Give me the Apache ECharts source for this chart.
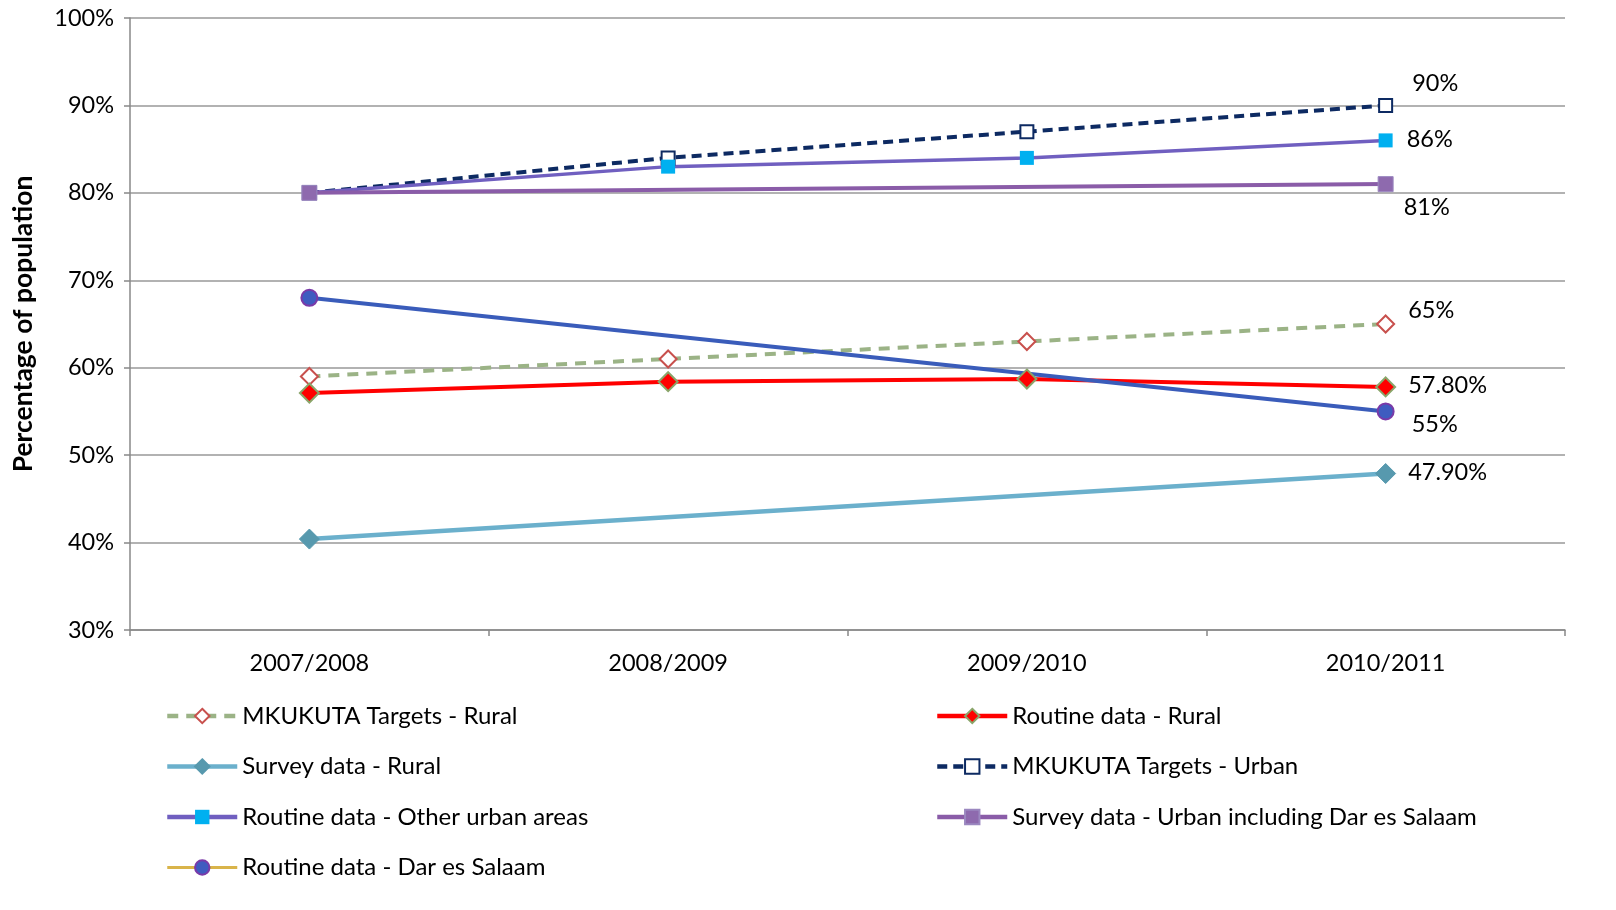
<!DOCTYPE html>
<html>
<head>
<meta charset="utf-8">
<script src="https://cdn.jsdelivr.net/npm/echarts@6/dist/echarts.min.js"></script>
<style>html,body{margin:0;padding:0;background:#fff}#c{width:1616px;height:910px}</style>
</head>
<body>
<div id="c"></div>
<script>
var categories = ['2007/2008', '2008/2009', '2009/2010', '2010/2011'];
var yTicks = [30, 40, 50, 60, 70, 80, 90, 100];
var mkukutaRural = [59, 61, 63, 65];
var routineRural = [57.1, 58.4, 58.7, 57.8];
var surveyRural = [40.4, null, null, 47.9];
var mkukutaUrban = [80, 84, 87, 90];
var routineOtherUrban = [80, 83, 84, 86];
var surveyUrban = [80, null, null, 81];
var routineDar = [68, null, null, 55];
var endLabels = ['65%', '57.80%', '47.90%', '90%', '86%', '81%', '55%'];

var FONT = 'Lato';
var FS = 23.5;
var chart = echarts.init(document.getElementById('c'));

function withEndLabel(arr, text, offset) {
  return arr.map(function (v, i) {
    if (i === arr.length - 1) {
      return {
        value: v,
        label: {
          show: true, position: 'right', offset: offset, formatter: text,
          color: '#000', fontFamily: FONT, fontSize: FS
        }
      };
    }
    return v;
  });
}

var series = [
  {
    name: 'MKUKUTA Targets - Rural', type: 'line',
    data: withEndLabel(mkukutaRural, endLabels[0], [8, -14]),
    symbol: 'diamond', symbolSize: 17,
    lineStyle: { color: '#9BB386', width: 4, type: [11, 8] },
    itemStyle: { color: '#fff', borderColor: '#C8504D', borderWidth: 2 }
  },
  {
    name: 'Routine data - Rural', type: 'line',
    data: withEndLabel(routineRural, endLabels[1], [7, -2]),
    symbol: 'diamond', symbolSize: 19,
    lineStyle: { color: '#FF0000', width: 4 },
    itemStyle: { color: '#FF0000', borderColor: '#8AA56A', borderWidth: 2 }
  },
  {
    name: 'Survey data - Rural', type: 'line', connectNulls: true,
    data: withEndLabel(surveyRural, endLabels[2], [7, -1]),
    symbol: 'diamond', symbolSize: 20,
    lineStyle: { color: '#6BB0CC', width: 4.5 },
    itemStyle: { color: '#5799AE', borderColor: '#5799AE', borderWidth: 1 }
  },
  {
    name: 'MKUKUTA Targets - Urban', type: 'line',
    data: withEndLabel(mkukutaUrban, endLabels[3], [14, -22]),
    symbol: 'rect', symbolSize: 13,
    lineStyle: { color: '#0D2A62', width: 4, type: [10, 6] },
    itemStyle: { color: '#fff', borderColor: '#0D2A62', borderWidth: 2 }
  },
  {
    name: 'Routine data - Other urban areas', type: 'line',
    data: withEndLabel(routineOtherUrban, endLabels[4], [9, -1]),
    symbol: 'rect', symbolSize: 14,
    lineStyle: { color: '#705FC0', width: 3.5 },
    itemStyle: { color: '#00B0F0', borderColor: '#00B0F0', borderWidth: 0 }
  },
  {
    name: 'Survey data - Urban including Dar es Salaam', type: 'line', connectNulls: true,
    data: withEndLabel(surveyUrban, endLabels[5], [5, 23]),
    symbol: 'rect', symbolSize: 15,
    lineStyle: { color: '#8A5CA8', width: 4 },
    itemStyle: { color: '#8E6AAE', borderColor: '#9B88C0', borderWidth: 1 }
  },
  {
    name: 'Routine data - Dar es Salaam', type: 'line', connectNulls: true,
    data: withEndLabel(routineDar, endLabels[6], [12, 13]),
    symbol: 'circle', symbolSize: 16,
    lineStyle: { color: '#3A5CBA', width: 4 },
    itemStyle: { color: '#3F5CC0', borderColor: '#7A3AA8', borderWidth: 2 }
  }
];

function legendItem(name, extra) {
  var o = { name: name };
  if (extra) { for (var k in extra) o[k] = extra[k]; }
  return o;
}

var legendText = { fontFamily: FONT, fontSize: 24, color: '#000' };
var legendBase = {
  orient: 'vertical', top: 704, padding: 0, itemWidth: 70, itemHeight: 18, itemGap: 26.5,
  textStyle: legendText, lineStyle: { width: 4.5 }
};
function mkLegend(left, items) {
  var o = {};
  for (var k in legendBase) o[k] = legendBase[k];
  o.left = left; o.data = items;
  return o;
}

var option = {
  animation: false,
  backgroundColor: '#fff',
  grid: { left: 130, right: 51, top: 18, bottom: 280, containLabel: false },
  xAxis: {
    type: 'category', data: categories, boundaryGap: true,
    axisLine: { lineStyle: { color: '#888', width: 1.5 } },
    axisTick: { show: true, length: 6, lineStyle: { color: '#888', width: 1.5 } },
    axisLabel: { color: '#000', fontFamily: FONT, fontSize: FS, margin: 21 },
    splitLine: { show: false }
  },
  yAxis: {
    type: 'value', min: yTicks[0], max: yTicks[yTicks.length - 1], interval: 10,
    name: 'Percentage of population', nameLocation: 'middle', nameGap: 93,
    nameTextStyle: { color: '#000', fontFamily: FONT, fontSize: 26.5, fontWeight: 'bold' },
    axisLine: { show: true, lineStyle: { color: '#888', width: 1.5 } },
    axisTick: { show: true, length: 6, lineStyle: { color: '#888', width: 1.5 } },
    axisLabel: { color: '#000', fontFamily: FONT, fontSize: FS, margin: 16, formatter: '{value}%' },
    splitLine: { show: true, lineStyle: { color: '#999', width: 1.5 } }
  },
  legend: [
    mkLegend(165, [
      legendItem('MKUKUTA Targets - Rural'),
      legendItem('Survey data - Rural'),
      legendItem('Routine data - Other urban areas'),
      legendItem('Routine data - Dar es Salaam', { lineStyle: { color: '#D9B44A', width: 3 } })
    ]),
    mkLegend(935, [
      legendItem('Routine data - Rural'),
      legendItem('MKUKUTA Targets - Urban'),
      legendItem('Survey data - Urban including Dar es Salaam')
    ])
  ],
  series: series
};
chart.setOption(option);
</script>
</body>
</html>
